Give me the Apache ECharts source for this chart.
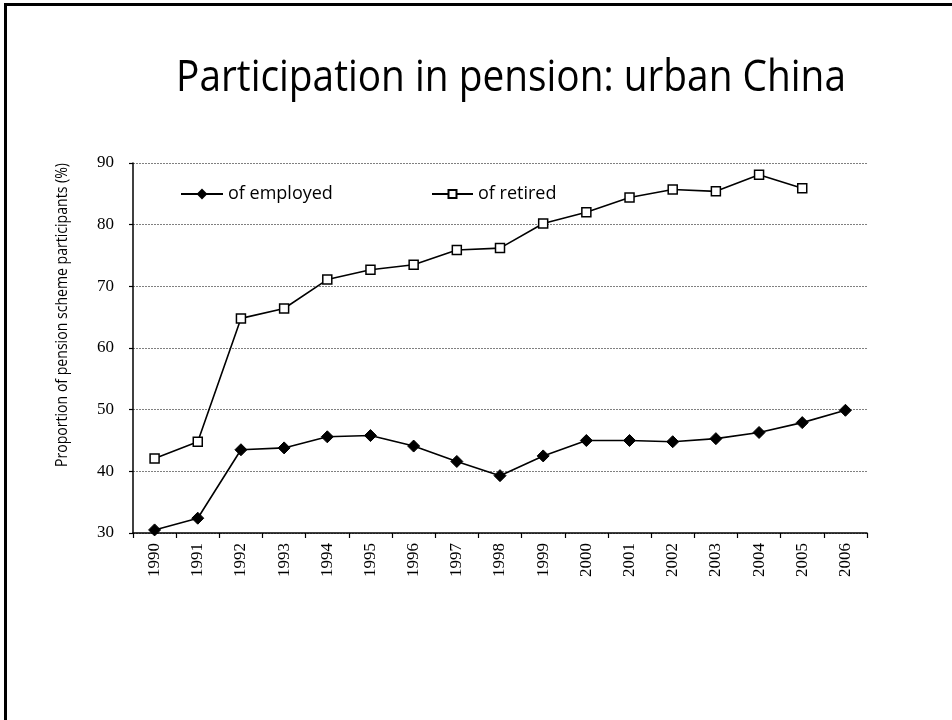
<!DOCTYPE html>
<html>
<head>
<meta charset="utf-8">
<script src="https://cdn.jsdelivr.net/npm/echarts@6/dist/echarts.min.js"></script>
<style>
  html, body { margin: 0; padding: 0; background: #fff; }
  #chart { width: 952px; height: 720px; }
</style>
</head>
<body>
<div id="chart"></div>
<script>
// Years on the category axis
const years = ['1990','1991','1992','1993','1994','1995','1996','1997','1998',
               '1999','2000','2001','2002','2003','2004','2005','2006'];
// Share of employed workers covered by the pension scheme (%)
const employed = [30.5, 32.4, 43.5, 43.8, 45.6, 45.8, 44.1, 41.6, 39.3,
                  42.5, 45.0, 45.0, 44.8, 45.3, 46.3, 47.9, 49.9];
// Share of retirees covered (%); no figure for 2006
const retired = [42.1, 44.8, 64.8, 66.4, 71.1, 72.7, 73.5, 75.9, 76.2,
                 80.2, 82.0, 84.4, 85.7, 85.4, 88.1, 85.9, null];
// Value axis range
const yMin = 30, yMax = 90, yStep = 10;

const titleText = 'Participation in pension: urban China';
const yAxisTitle = 'Proportion of pension scheme participants (%)';

const sansFont = '"Open Sans", "Noto Sans", sans-serif';
const serifFont = '"Liberation Serif", "DejaVu Serif", serif';

const chart = echarts.init(document.getElementById('chart'), null, { renderer: 'canvas' });

chart.setOption({
  animation: false,
  backgroundColor: '#ffffff',
  graphic: [
    // slide frame: top and left edges
    { type: 'line', shape: { x1: 5.5, y1: 4.5, x2: 952, y2: 4.5 }, style: { stroke: '#000', lineWidth: 3 } },
    { type: 'line', shape: { x1: 5.5, y1: 3, x2: 5.5, y2: 720 }, style: { stroke: '#000', lineWidth: 3 } },
    // slide heading, slightly condensed
    {
      type: 'text',
      x: 511, y: 78,
      scaleX: 0.882,
      style: {
        text: titleText,
        font: '44px "Open Sans", "Noto Sans", sans-serif',
        fill: '#000',
        textAlign: 'center',
        textVerticalAlign: 'middle'
      }
    },
    // value axis title, slightly condensed along its length
    {
      type: 'text',
      x: 62, y: 315,
      rotation: Math.PI / 2,
      scaleX: 0.88,
      style: {
        text: yAxisTitle,
        font: '16px "Open Sans", "Noto Sans", sans-serif',
        fill: '#000',
        textAlign: 'center',
        textVerticalAlign: 'middle'
      }
    }
  ],
  legend: [
    {
      data: ['of employed'],
      left: 175, top: 180,
      itemWidth: 42, itemHeight: 10, itemGap: 6,
      textStyle: { fontFamily: sansFont, fontSize: 18, color: '#000' }
    },
    {
      data: ['of retired'],
      left: 426, top: 180,
      itemWidth: 41, itemHeight: 10, itemGap: 6,
      textStyle: { fontFamily: sansFont, fontSize: 18, color: '#000' }
    }
  ],
  grid: { left: 133, right: 85, top: 163, bottom: 187, containLabel: false },
  xAxis: {
    type: 'category',
    data: years,
    boundaryGap: true,
    axisLine: { lineStyle: { color: '#000', width: 1.5 } },
    axisTick: { show: true, alignWithLabel: false, length: 5, lineStyle: { color: '#000', width: 1.2 } },
    axisLabel: {
      rotate: 90, margin: 10, color: '#000',
      fontFamily: serifFont, fontSize: 17
    },
    splitLine: { show: false }
  },
  yAxis: {
    type: 'value',
    min: yMin, max: yMax, interval: yStep,
    axisLine: { show: true, lineStyle: { color: '#000', width: 1.5 } },
    axisTick: { show: true, length: 4, lineStyle: { color: '#000', width: 1.2 } },
    axisLabel: { margin: 19, color: '#000', fontFamily: serifFont, fontSize: 17 },
    splitLine: { show: true, lineStyle: { color: '#808080', width: 1, type: [2, 1] } }
  },
  series: [
    {
      name: 'of employed',
      type: 'line',
      data: employed,
      symbol: 'diamond',
      symbolSize: 12,
      showAllSymbol: true,
      lineStyle: { color: '#000', width: 1.6 },
      itemStyle: { color: '#000', borderColor: '#000', borderWidth: 1 },
      z: 3
    },
    {
      name: 'of retired',
      type: 'line',
      data: retired,
      connectNulls: false,
      symbol: 'rect',
      symbolSize: 9,
      showAllSymbol: true,
      lineStyle: { color: '#000', width: 1.6 },
      itemStyle: { color: '#fff', borderColor: '#000', borderWidth: 1.5 },
      z: 3
    }
  ]
});
</script>
</body>
</html>
